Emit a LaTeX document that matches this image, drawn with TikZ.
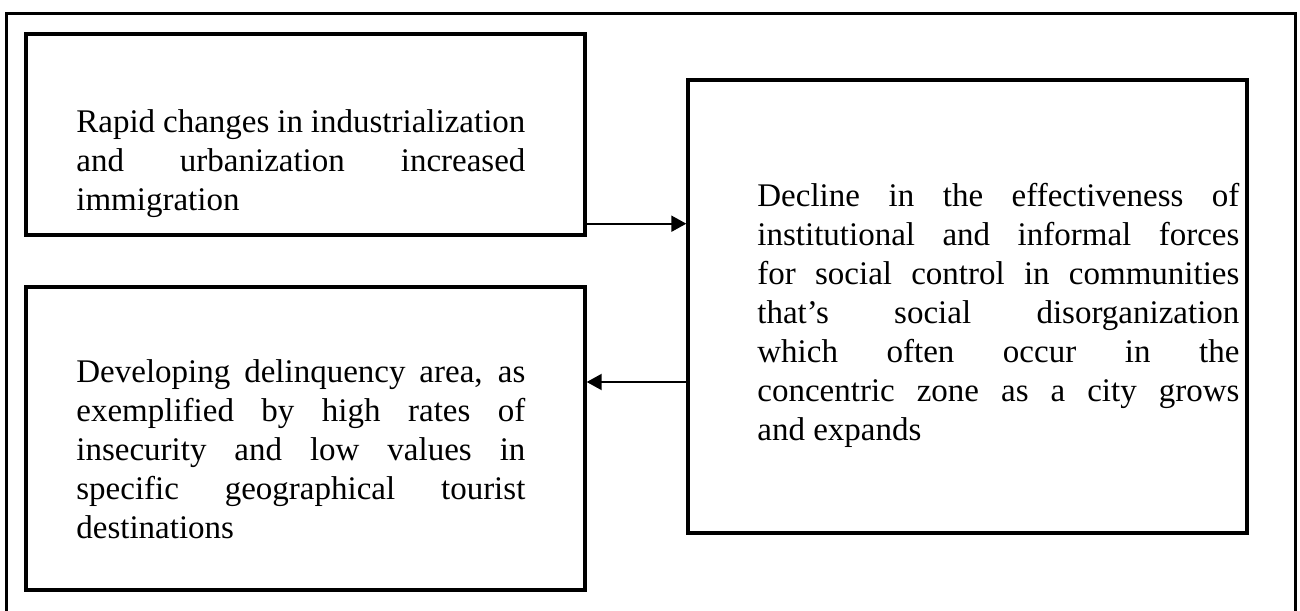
\documentclass[tikz,border=0pt]{standalone}
\usepackage{fontspec}
\setmainfont{Liberation Serif}
\usetikzlibrary{arrows.meta}
\hyphenpenalty=10000
\tolerance=10000
\hbadness=10000

\begin{document}
\begin{tikzpicture}[x=0.5pt,y=-0.5pt,
  box/.style={draw,line width=1.7pt,minimum width=279.5pt,inner sep=0pt},
  txt/.style={anchor=base west,inner sep=0pt,align=justify,font=\fontsize{16.5}{19.5}\selectfont},
  link/.style={line width=1pt,-{Triangle[length=7.5pt,width=8pt]}}]
\useasboundingbox (0,0) rectangle (1300,610);
% outer frame (bottom edge runs off the page)
\draw[line width=1.7pt] (6.5,640) rectangle (1295.5,13.5);
% Boxes
\node[box,minimum height=100.5pt] (change) at (305.5,134.5) {};
\node[box,minimum height=151.5pt] (delinq) at (305.5,438.5) {};
\node[box,minimum height=226.5pt] (decline) at (967.5,306.5) {};
% Texts
\node[txt,text width=224.5pt] (changetxt) at (76,133)
  {Rapid changes in industrialization\linebreak and urbanization increased\linebreak immigration};
\node[txt,text width=224.5pt] (delinqtxt) at (76,382)
  {Developing delinquency area, as\linebreak exemplified by high rates of\linebreak insecurity and low values in\linebreak specific geographical tourist\linebreak destinations};
\node[txt,text width=241pt] (declinetxt) at (757,206)
  {Decline in the effectiveness of\linebreak institutional and informal forces\linebreak for social control in communities\linebreak that’s social disorganization\linebreak which often occur in the\linebreak concentric zone as a city grows\linebreak and expands};
% Arrows
\draw[link] ([yshift=6.5pt]change.south east) -- ([yshift=6.5pt]change.south east -| decline.west);
\draw[link] ([yshift=-37.75pt]decline.west) -- ([yshift=-37.75pt]decline.west -| delinq.east);
\end{tikzpicture}
\end{document}
